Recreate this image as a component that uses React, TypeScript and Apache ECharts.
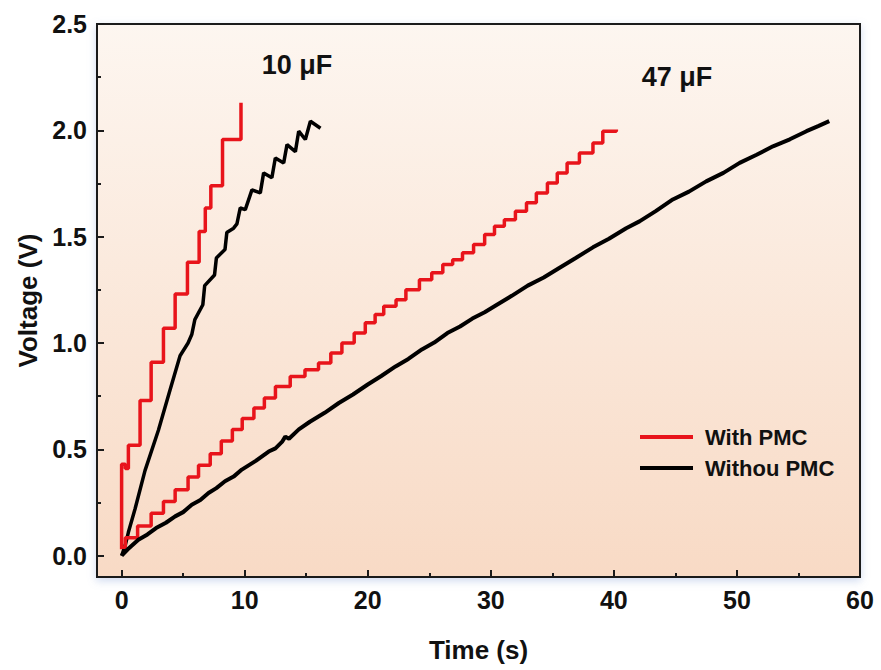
import React, { useEffect, useRef } from "react";
import * as echarts from "echarts";

// Time (s), Voltage (V)
const red10uF: [number, number][] = [
  [0, 0.03], [0, 0.43], [0.3, 0.41], [0.55, 0.52], [1.5, 0.73], [2.4, 0.91], [3.4, 1.07],
  [4.35, 1.23], [5.35, 1.38], [6.3, 1.525], [6.8, 1.635], [7.25, 1.74], [8.2, 1.957],
  [9.7, 2.13],
];
const black10uF: [number, number][] = [
  [0, 0], [0.3, 0.05], [0.55, 0.11], [1.09, 0.22], [1.9, 0.4], [2.99, 0.59], [3.94, 0.78],
  [4.75, 0.94], [5.4, 1.0], [5.7, 1.04], [5.95, 1.11], [6.6, 1.18], [6.75, 1.27], [7.55, 1.32],
  [7.7, 1.4], [8.4, 1.44], [8.55, 1.52], [9.1, 1.54], [9.37, 1.56], [9.64, 1.635], [10.05, 1.627],
  [10.59, 1.72], [11.27, 1.706], [11.54, 1.8], [12.21, 1.777], [12.49, 1.87], [13.17, 1.847],
  [13.44, 1.933], [14.12, 1.9], [14.39, 1.996], [14.93, 1.957], [15.34, 2.043], [16.16, 2.01],
];
const red47uF: [number, number][] = [
  [0, 0.04], [0.3, 0.085], [1.3, 0.14], [2.4, 0.2], [3.4, 0.255], [4.35, 0.31], [5.4, 0.37],
  [6.25, 0.425], [7.2, 0.48], [8.1, 0.54], [9.0, 0.593], [9.8, 0.645], [10.75, 0.695],
  [11.6, 0.742], [12.5, 0.796], [13.7, 0.843], [14.9, 0.875], [16.0, 0.906], [17.0, 0.953],
  [17.9, 1.0], [18.9, 1.047], [19.8, 1.095], [20.6, 1.134], [21.3, 1.173], [22.3, 1.204],
  [23.1, 1.251], [24.2, 1.298], [25.2, 1.33], [26.1, 1.369], [26.9, 1.392], [27.7, 1.424],
  [28.6, 1.463], [29.5, 1.51], [30.3, 1.549], [31.1, 1.58], [32.0, 1.62], [32.9, 1.659],
  [33.7, 1.706], [34.6, 1.753], [35.4, 1.8], [36.2, 1.847], [37.2, 1.894], [38.3, 1.94],
  [39.1, 1.996], [40.2, 2.004],
];
const black47uF: [number, number][] = [
  [0, 0], [0.5, 0.03], [1.36, 0.075], [2.1, 0.1], [2.8, 0.13], [3.6, 0.155], [4.35, 0.185],
  [5.0, 0.205], [5.7, 0.24], [6.4, 0.262], [7.06, 0.295], [7.7, 0.318], [8.4, 0.35],
  [9.1, 0.372], [9.77, 0.405], [10.9, 0.446], [11.95, 0.49], [12.5, 0.505], [13.03, 0.535],
  [13.3, 0.56], [13.6, 0.55], [14.4, 0.594], [15.3, 0.63], [16.5, 0.672], [17.65, 0.718],
  [18.8, 0.758], [20, 0.805], [21.1, 0.845], [22.26, 0.89], [23.3, 0.925], [24.4, 0.97],
  [25.4, 1.002], [26.47, 1.047], [27.5, 1.078], [28.5, 1.115], [29.5, 1.145], [30.5, 1.18],
  [31.7, 1.222], [33, 1.27], [34.3, 1.308], [35.56, 1.353], [36.9, 1.4], [38.3, 1.45],
  [39.6, 1.49], [41.0, 1.54], [42.08, 1.572], [43.4, 1.62], [44.79, 1.675], [46.1, 1.712],
  [47.5, 1.76], [48.9, 1.8], [50.22, 1.847], [51.6, 1.885], [52.93, 1.925], [54.3, 1.958],
  [55.65, 1.996], [56.6, 2.02], [57.5, 2.043],
];

const xMajorTicks = [0, 10, 20, 30, 40, 50, 60];
const xMinorTicks = [5, 15, 25, 35, 45, 55];
const yMajorTicks = [0, 0.5, 1.0, 1.5, 2.0, 2.5];
const yMinorTicks = [0.25, 0.75, 1.25, 1.75, 2.25];
const seriesNames = ["With PMC", "Withou PMC"];
const capLabels = ["10 μF", "47 μF"];

const RED = "#e8141b";
const BLACK = "#000000";
const FONT = "'Liberation Sans', Arial, sans-serif";

export default function App() {
  const ref = useRef<HTMLDivElement>(null);
  useEffect(() => {
    if (!ref.current) return;
    const chart = echarts.init(ref.current, null, { renderer: "svg" });
    const axisLine = { show: true, onZero: false, lineStyle: { color: "#1a1a1a", width: 2 } };
    const lineSeries = (name: string, data: [number, number][], color: string, step: boolean, width: number) => ({
      name,
      type: "line",
      data,
      step: step ? "end" : false,
      symbol: "none",
      color,
      lineStyle: { color, width },
      xAxisIndex: 0,
      yAxisIndex: 0,
      z: 3,
    });
    chart.setOption({
      animation: false,
      backgroundColor: "#ffffff",
      textStyle: { fontFamily: FONT },
      grid: {
        left: 97,
        right: 21,
        top: 24,
        bottom: 93,
        show: true,
        borderColor: "#1a1a1a",
        borderWidth: 2,
        backgroundColor: new echarts.graphic.LinearGradient(0, 0, 0, 1, [
          { offset: 0, color: "#fdf6f0" },
          { offset: 1, color: "#f8dac5" },
        ]),
        shadowColor: "rgba(120,150,210,0.35)",
        shadowBlur: 8,
        shadowOffsetY: 3,
      },
      xAxis: [
        {
          type: "value",
          min: -2,
          max: 60,
          name: "Time (s)",
          nameLocation: "middle",
          nameGap: 60,
          nameTextStyle: { fontSize: 26, fontWeight: "bold", color: "#111", fontFamily: FONT },
          axisLine,
          splitLine: { show: false },
          axisTick: { show: true, inside: true, length: 7, customValues: xMajorTicks, lineStyle: { color: "#1a1a1a", width: 2 } },
          axisLabel: { customValues: xMajorTicks, margin: 10, fontSize: 25, fontWeight: "bold", color: "#111", fontFamily: FONT },
        },
        {
          type: "value",
          min: -2,
          max: 60,
          position: "bottom",
          axisLine: { show: false, onZero: false },
          splitLine: { show: false },
          axisTick: { show: true, inside: true, length: 4, customValues: xMinorTicks, lineStyle: { color: "#1a1a1a", width: 2 } },
          axisLabel: { show: false },
        },
      ],
      yAxis: [
        {
          type: "value",
          min: -0.1,
          max: 2.5,
          name: "Voltage (V)",
          nameLocation: "middle",
          nameGap: 56,
          nameTextStyle: { fontSize: 26, fontWeight: "bold", color: "#111", fontFamily: FONT },
          axisLine,
          splitLine: { show: false },
          axisTick: { show: true, inside: true, length: 7, customValues: yMajorTicks, lineStyle: { color: "#1a1a1a", width: 2 } },
          axisLabel: {
            customValues: yMajorTicks,
            margin: 10,
            fontSize: 25,
            fontWeight: "bold",
            color: "#111",
            fontFamily: FONT,
            formatter: (v: number) => v.toFixed(1),
          },
        },
        {
          type: "value",
          min: -0.1,
          max: 2.5,
          position: "left",
          axisLine: { show: false, onZero: false },
          splitLine: { show: false },
          axisTick: { show: true, inside: true, length: 4, customValues: yMinorTicks, lineStyle: { color: "#1a1a1a", width: 2 } },
          axisLabel: { show: false },
        },
      ],
      legend: {
        orient: "vertical",
        left: 635,
        top: 421,
        icon: "rect",
        itemWidth: 53,
        itemHeight: 4,
        itemGap: 9,
        data: seriesNames,
        textStyle: { fontSize: 22, fontWeight: "bold", color: "#111", fontFamily: FONT, padding: [0, 0, 0, 7] },
      },
      graphic: [
        { type: "text", x: 297, y: 65, style: { text: capLabels[0], font: `bold 27px ${FONT}`, fill: "#111", textAlign: "center", textVerticalAlign: "middle" } },
        { type: "text", x: 677, y: 77, style: { text: capLabels[1], font: `bold 27px ${FONT}`, fill: "#111", textAlign: "center", textVerticalAlign: "middle" } },
      ],
      series: [
        lineSeries(seriesNames[0], red10uF, RED, true, 3.5),
        lineSeries(seriesNames[1], black10uF, BLACK, false, 3.5),
        lineSeries(seriesNames[0], red47uF, RED, true, 3.5),
        lineSeries(seriesNames[1], black47uF, BLACK, false, 4),
      ],
    });
    return () => chart.dispose();
  }, []);
  return <div ref={ref} style={{ position: "fixed", left: 0, top: 0, width: 881, height: 670 }} />;
}
